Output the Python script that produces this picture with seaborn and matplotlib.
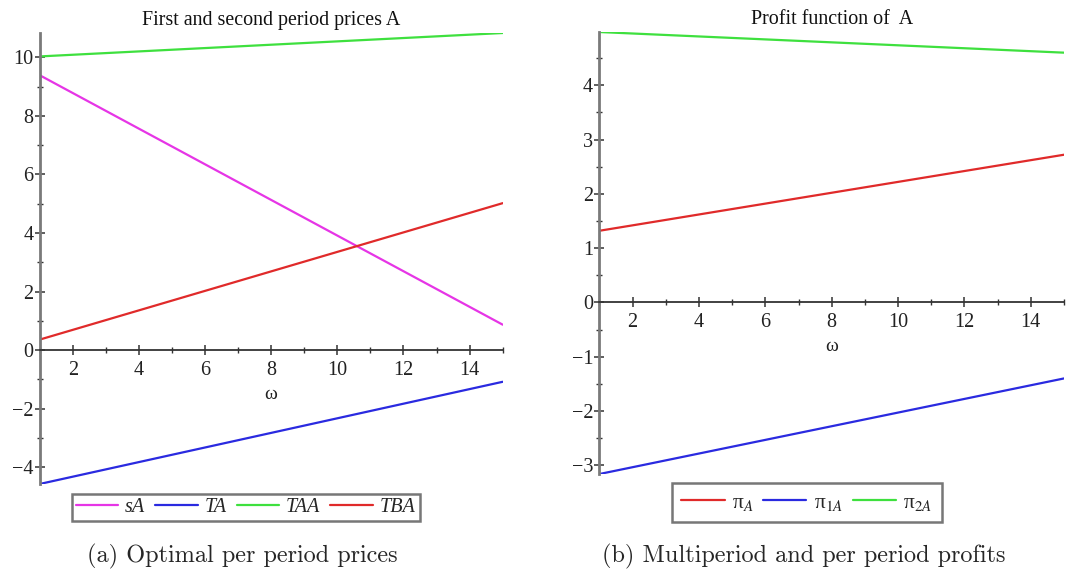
import matplotlib
matplotlib.use("Agg")
import matplotlib.pyplot as plt
from matplotlib.ticker import MultipleLocator
import numpy as np
import pandas as pd
import seaborn as sns

# omega range (both panels)
omega = [1, 15]

# (a) first and second period prices of A
sA = [9.39, 0.87]
TA = [-4.57, -1.08]
TAA = [10.03, 10.83]
TBA = [0.36, 5.02]
price_labels = ["sA", "TA", "TAA", "TBA"]

# (b) multiperiod and per period profits of A
pi_A = [1.32, 2.72]
pi_1A = [-3.16, -1.40]
pi_2A = [4.98, 4.60]
profit_labels = ["π$_{\\mathit{A}}$", "π$_{\\mathit{1A}}$", "π$_{\\mathit{2A}}$"]

titles = ["First and second period prices A", "Profit function of  A"]
captions = ["(a) Optimal per period prices", "(b) Multiperiod and per period profits"]

MAGENTA = "#e635e6"
BLUE = "#2a2ae0"
GREEN = "#3ee03e"
RED = "#e02a2a"

sns.set_theme(style="white")
plt.rcParams["font.family"] = ["Liberation Serif", "DejaVu Serif"]
plt.rcParams["mathtext.fontset"] = "stix"


def long_frame(series, labels):
    rows = []
    for vals, lab in zip(series, labels):
        for x, y in zip(omega, vals):
            rows.append({"omega": x, "value": y, "series": lab})
    return pd.DataFrame(rows)


df_a = long_frame([sA, TA, TAA, TBA], price_labels)
df_b = long_frame([pi_A, pi_1A, pi_2A], profit_labels)

fig = plt.figure(figsize=(10.68, 5.74), dpi=100)
ax1 = fig.add_axes([0.0371, 0.1568, 0.4336, 0.7857])
ax2 = fig.add_axes([0.5613, 0.1742, 0.4349, 0.7700])

sns.lineplot(data=df_a, x="omega", y="value", hue="series",
             palette=[MAGENTA, BLUE, GREEN, RED], linewidth=1.6, ax=ax1)
sns.lineplot(data=df_b, x="omega", y="value", hue="series",
             palette=[RED, BLUE, GREEN], linewidth=1.6, ax=ax2)


def style_axis(ax, ylim, ymajor, yminor, title):
    ax.set_xlim(1, 15)
    ax.set_ylim(*ylim)
    ax.spines["top"].set_visible(False)
    ax.spines["right"].set_visible(False)
    ax.spines["bottom"].set_position(("data", 0))
    ax.spines["bottom"].set_color("#333333")
    ax.spines["bottom"].set_linewidth(1.3)
    ax.spines["left"].set_color("#7a7a7a")
    ax.spines["left"].set_linewidth(2.0)
    ax.xaxis.set_major_locator(MultipleLocator(2))
    ax.xaxis.set_minor_locator(MultipleLocator(1))
    ax.yaxis.set_major_locator(MultipleLocator(ymajor))
    ax.yaxis.set_minor_locator(MultipleLocator(yminor))
    ax.tick_params(axis="both", which="both", bottom=True, left=True,
                   top=False, right=False)
    ax.tick_params(axis="both", which="major", direction="inout", length=7,
                   width=1.1, color="#333333", labelsize=14.5, pad=1,
                   labelcolor="#222222")
    ax.tick_params(axis="both", which="minor", direction="inout", length=5,
                   width=1.0, color="#333333")
    ax.tick_params(axis="x", which="major", pad=4)
    ax.set_xlabel("")
    ax.set_ylabel("")
    ax.annotate("ω", xy=(8, 0), xycoords="data", xytext=(0, -32),
                textcoords="offset points", ha="center", va="center",
                fontsize=14, color="#222222")
    ax.set_title(title, fontsize=14.4, color="#111111", pad=6)


style_axis(ax1, (-4.57, 10.83), 2, 1, titles[0])
style_axis(ax2, (-3.16, 4.98), 1, 0.5, titles[1])

ax1.legend(ncol=4, loc="upper center", bbox_to_anchor=(0.445, -0.022),
           frameon=True, fancybox=False, edgecolor="#555555",
           prop={"style": "italic", "size": 14.5}, handlelength=2.1,
           handletextpad=0.35, columnspacing=0.5, borderpad=0.2,
           borderaxespad=0)
ax2.legend(ncol=3, loc="upper center", bbox_to_anchor=(0.447, -0.02),
           frameon=True, fancybox=False, edgecolor="#555555",
           prop={"size": 15.5}, handlelength=2.0,
           handletextpad=0.35, columnspacing=0.45, borderpad=0.45,
           borderaxespad=0)
for leg in (ax1.get_legend(), ax2.get_legend()):
    leg.get_frame().set_linewidth(1.8)
    leg.set_title(None)

fig.text(0.227, 0.030, captions[0], ha="center", va="center",
         fontsize=17.5, family="cmr10")
fig.text(0.7528, 0.030, captions[1], ha="center", va="center",
         fontsize=17.5, family="cmr10")

fig.savefig("out.png", dpi=100)
